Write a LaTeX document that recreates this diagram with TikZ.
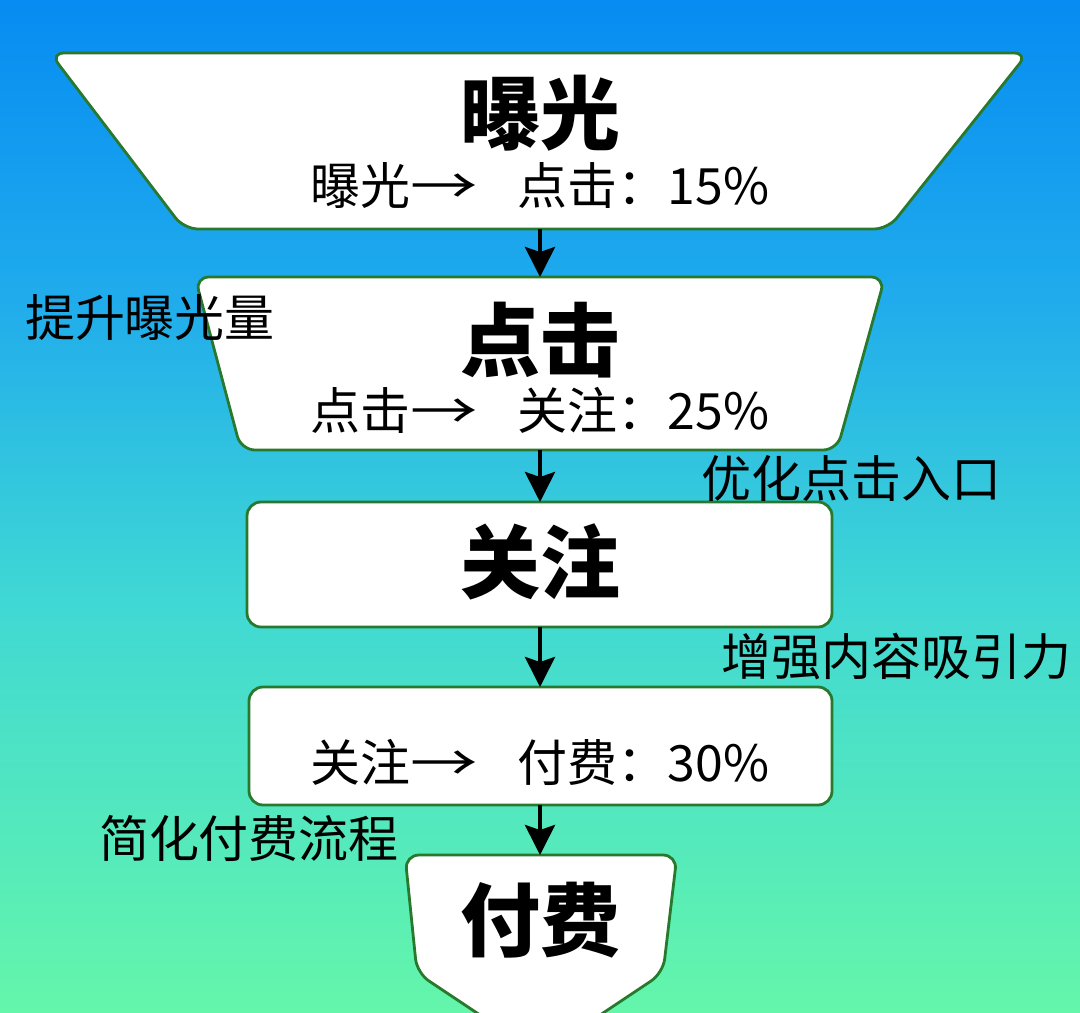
\documentclass[tikz,border=0pt]{standalone}
\usepackage{fontspec}
\usepackage{graphicx}
\setmainfont{Noto Sans CJK SC}
\usetikzlibrary{arrows.meta}
\definecolor{bgA}{RGB}{6,140,242}
\definecolor{bgB}{RGB}{32,172,236}
\definecolor{bgC}{RGB}{64,216,212}
\definecolor{bgD}{RGB}{100,246,170}
\definecolor{edge}{RGB}{40,120,45}
\newcommand{\arrw}{\scalebox{1.35}[1]{→}}
\tikzset{
  box/.style={fill=white,draw=edge,line width=2.8pt,rounded corners=14pt},
  conn/.style={line width=4pt,-{Stealth[length=30pt,width=30pt,inset=5pt]}},
  title/.style={font=\fontsize{80}{90}\selectfont\bfseries,inner sep=0pt},
  sub/.style={font=\fontsize{50}{58}\selectfont,inner sep=0pt},
  side/.style={font=\fontsize{50}{58}\selectfont,inner sep=0pt}
}
\begin{document}
\begin{tikzpicture}[x=1pt,y=-1pt]
\useasboundingbox (0,0) rectangle (1080,1013);
\shade[top color=bgA,bottom color=bgB] (0,0) rectangle (1080,300.5);
\shade[top color=bgB,bottom color=bgC] (0,300) rectangle (1080,600.5);
\shade[top color=bgC,bottom color=bgD] (0,600) rectangle (1080,1013);
\begin{scope}
\clip (0,0) rectangle (1080,1013);
% boxes
\draw[box] (50,53) -- (1028,53) -- (888,229) -- (184,229) -- cycle;
\draw[box] (195,277) -- (885,277) -- (837,450) -- (241,450) -- cycle;
\draw[box] (247,502) rectangle (832,627);
\draw[box] (249,687) rectangle (832,805);
\draw[box] (405,855) -- (677,855) -- (663,973) -- (540,1055) -- (417,973) -- cycle;
\end{scope}
\coordinate (b1s) at (540,229);
\coordinate (b2n) at (540,277);
\coordinate (b2s) at (540,450);
\coordinate (b3n) at (540,502);
\coordinate (b3s) at (540,627);
\coordinate (b4n) at (540,687);
\coordinate (b4s) at (540,805);
\coordinate (b5n) at (540,855);
\draw[conn] (b1s) -- (b2n);
\draw[conn] (b2s) -- (b3n);
\draw[conn] (b3s) -- (b4n);
\draw[conn] (b4s) -- (b5n);
% titles
\node[title] (t1) at (540,113) {曝光};
\node[sub] (s1) at (540,185) {曝光\arrw\hspace{0.8em}点击：15\%};
\node[title] (t2) at (540,340) {点击};
\node[sub] (s2) at (540,410) {点击\arrw\hspace{0.8em}关注：25\%};
\node[title] (t3) at (540,562) {关注};
\node[sub] (s4) at (540,762) {关注\arrw\hspace{0.8em}付费：30\%};
\node[title] (t5) at (540,920) {付费};
% side labels
\node[side] (l1) at (150,318) {提升曝光量};
\node[side] (l2) at (851,478) {优化点击入口};
\node[side] (l3) at (896,657) {增强内容吸引力};
\node[side] (l4) at (249,838) {简化付费流程};
\end{tikzpicture}
\end{document}
